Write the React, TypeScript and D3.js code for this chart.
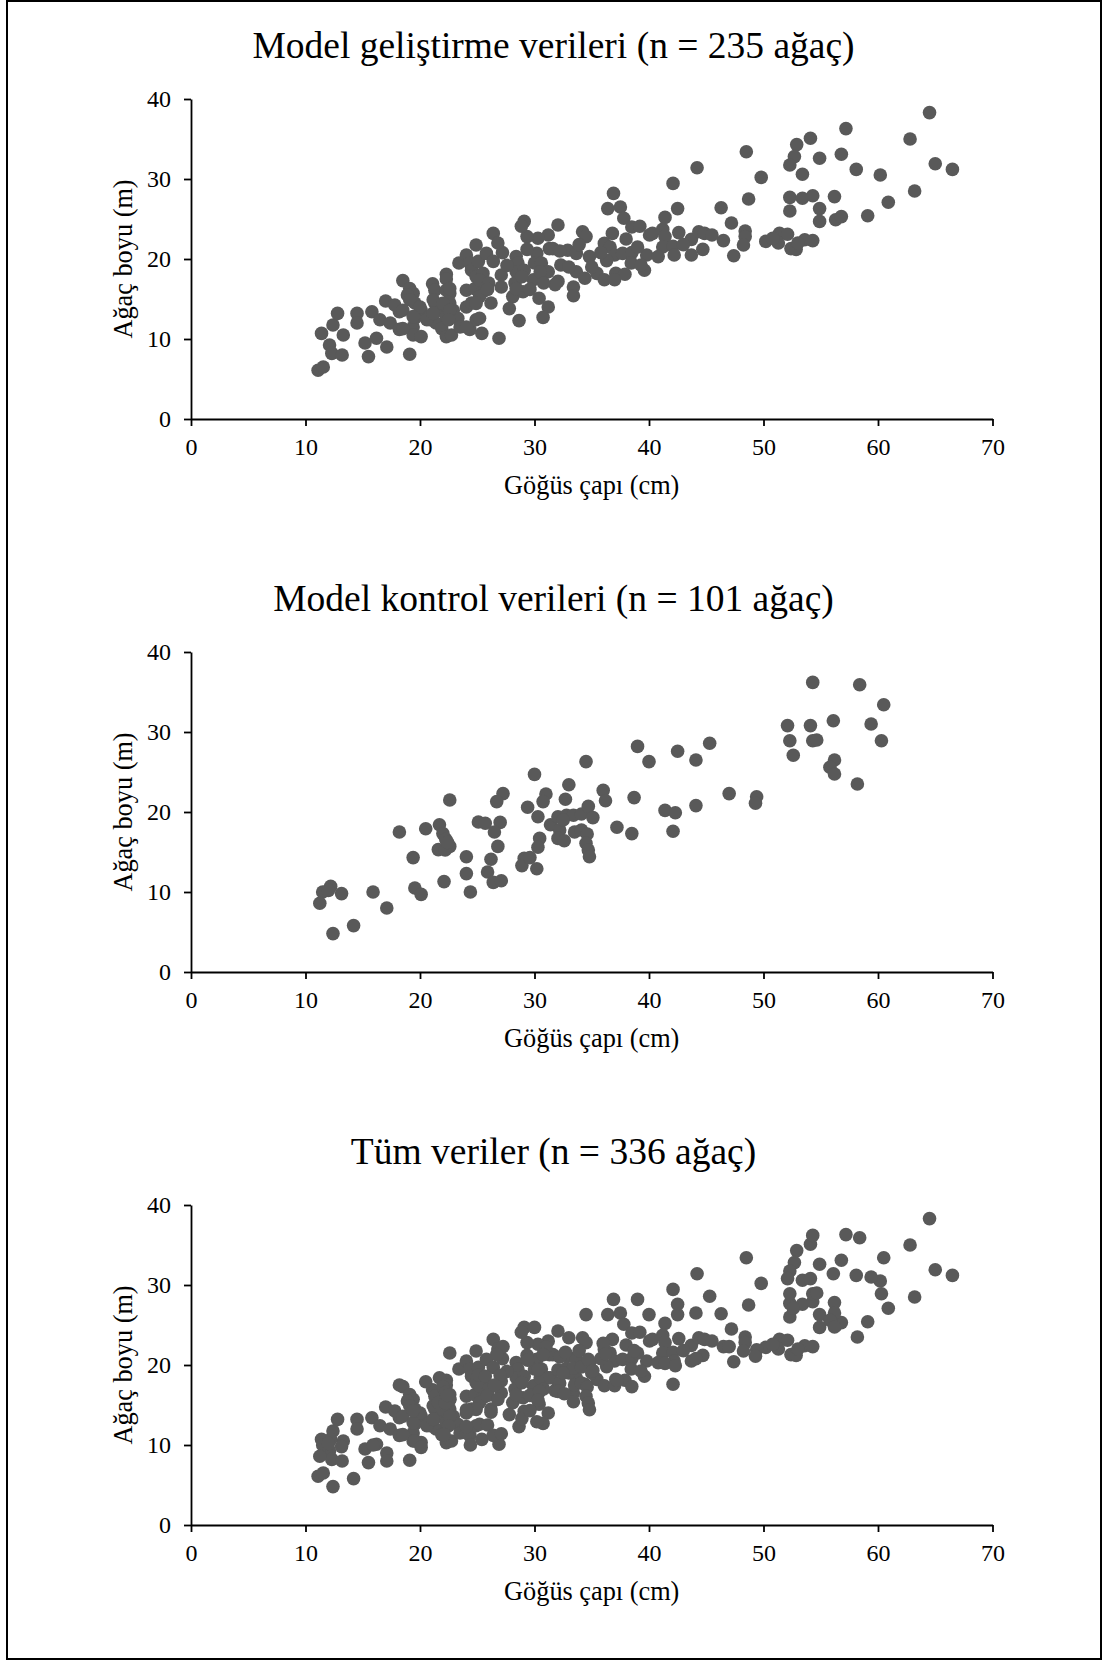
import React, { useEffect, useRef } from "react";
import * as d3 from "d3";

// Model development data (DBH cm, height m)
const devData: [number, number][] = [
  [11.1, 6.1], [11.55, 6.5], [11.4, 10.7], [12.1, 9.25], [12.3, 8.2], [13.2, 8.0], [13.3, 10.5], [12.4, 11.75],
  [12.8, 13.2], [14.5, 13.2], [14.5, 12.0], [15.5, 7.8], [15.2, 9.5], [16.2, 10.1], [17.1, 9.0], [15.8, 13.4],
  [16.5, 12.4], [17.0, 14.75], [17.4, 12.0], [18.2, 13.4], [18.2, 11.2], [19.1, 8.1], [17.8, 14.25], [18.5, 17.3],
  [19.1, 16.3], [19.4, 15.7], [18.9, 15.5], [19.55, 14.5], [20.1, 13.6], [19.55, 12.6], [19.4, 11.5], [19.4, 10.5],
  [20.1, 10.3], [21.1, 16.9], [21.3, 16.1], [22.3, 18.1], [22.3, 16.1], [22.6, 15.7], [21.3, 14.5], [21.7, 13.6],
  [20.9, 12.4], [21.4, 12.0], [22.3, 12.8], [22.6, 14.5], [22.9, 13.6], [21.9, 11.3], [22.3, 10.3], [22.75, 10.5],
  [23.3, 12.6], [23.5, 11.5], [24.35, 11.2], [24.9, 12.4], [24.05, 14.0], [24.5, 14.5], [24.05, 16.1], [24.8, 16.3],
  [23.4, 19.5], [24.05, 20.5], [24.35, 19.5], [24.9, 21.75], [24.5, 18.6], [24.9, 17.8], [25.1, 19.7],
  [36.9, 28.2], [36.4, 26.3], [37.5, 26.5], [37.8, 25.1], [38.5, 24.0], [39.2, 24.1], [40.05, 23.0], [36.8, 23.2],
  [36.1, 21.95], [36.6, 21.5], [37.0, 20.5], [37.7, 20.7], [38.5, 20.8], [38.45, 19.5], [39.8, 20.5], [39.6, 18.6],
  [35.45, 18.2], [36.1, 17.4], [37.1, 18.2], [37.9, 18.1], [37.0, 17.4], [34.2, 23.4], [34.5, 22.8], [32.9, 21.1],
  [33.65, 20.7], [34.8, 20.3], [33.65, 18.4], [34.4, 17.6], [32.3, 19.25], [32.05, 17.2], [33.4, 16.5], [33.4, 15.4],
  [32.05, 24.25], [31.2, 23.0], [30.3, 22.6], [29.35, 22.8], [29.1, 24.7], [28.85, 24.1], [31.3, 21.3], [31.6, 21.3],
  [30.2, 20.7], [29.35, 21.2], [28.4, 20.3], [28.55, 19.5], [30.0, 19.5], [30.6, 19.5], [31.2, 18.4], [28.4, 18.4],
  [29.1, 18.6], [29.9, 17.4], [30.5, 18.4], [28.3, 17.0], [28.4, 15.9], [28.1, 15.3], [29.0, 15.9], [30.4, 15.1],
  [31.2, 14.0], [30.75, 12.7], [28.65, 12.3], [27.1, 18.0], [27.1, 16.5], [26.4, 23.2], [27.2, 20.8], [25.8, 20.7],
  [26.4, 19.7], [25.5, 18.2], [25.2, 17.4], [25.5, 15.9], [26.2, 14.5], [25.2, 12.6], [25.4, 10.7], [26.9, 10.1],
  [54.1, 35.1], [52.9, 34.3], [52.7, 32.8], [52.3, 31.75], [53.4, 30.6], [54.9, 32.6], [48.5, 33.4], [49.8, 30.2],
  [44.2, 31.4], [42.1, 29.45], [48.7, 27.5], [52.3, 27.7], [52.3, 26.0], [53.4, 27.6], [54.3, 27.9], [54.9, 26.3],
  [54.9, 24.7], [46.3, 26.4], [47.2, 24.5], [42.5, 26.3], [41.4, 25.2], [40.3, 23.2], [41.2, 23.7], [41.4, 22.8],
  [42.6, 23.3], [43.7, 22.45], [44.35, 23.4], [44.85, 23.2], [41.2, 21.5], [42.1, 21.6], [42.2, 20.5], [43.7, 20.5],
  [44.7, 21.2], [39.3, 19.25], [46.5, 22.3], [47.4, 20.4], [48.4, 23.5], [48.4, 22.8], [48.25, 21.75], [50.2, 22.2],
  [51.4, 23.2], [52.1, 23.1], [51.3, 22.0], [52.4, 21.3], [52.85, 21.2], [53.6, 22.4], [54.3, 22.3],
  [64.5, 38.3], [57.2, 36.3], [62.8, 35.0], [56.8, 33.1], [58.1, 31.2], [60.2, 30.5], [65.0, 31.9], [66.5, 31.2],
  [63.2, 28.5], [60.9, 27.1], [56.2, 27.8], [56.3, 24.9], [56.8, 25.3], [59.1, 25.4],
  [32.2, 21.0], [28.9, 17.8], [28.4, 16.3], [22.3, 17.5], [22.6, 16.3], [25.2, 15.3], [24.9, 14.45], [19.1, 14.9],
  [20.0, 14.0], [18.5, 13.6], [21.15, 14.9], [22.0, 14.45], [22.6, 13.6], [19.4, 12.8], [20.6, 12.4], [21.15, 13.2],
  [22.5, 12.4], [24.05, 11.5], [18.5, 11.3],
  [35.0, 19.0], [36.3, 19.8], [38.0, 22.5], [39.0, 21.5], [35.8, 20.8], [33.0, 19.0], [31.8, 16.8], [30.8, 17.0],
  [29.6, 16.2], [33.9, 21.8], [26.0, 17.0], [27.6, 19.2], [26.8, 22.0], [25.9, 16.2], [27.8, 13.8], [43.0, 21.8],
  [45.5, 23.0], [50.8, 22.6], [53.0, 22.0], [40.8, 20.3],
];

// Model control data (DBH cm, height m)
const ctrlData: [number, number][] = [
  [30.0, 24.7], [22.6, 21.5], [27.25, 22.3], [26.7, 21.3], [29.4, 20.6], [30.3, 19.4], [18.2, 17.5], [20.5, 17.9],
  [21.7, 18.4], [22.0, 17.3], [22.25, 16.6], [22.6, 15.7], [21.6, 15.3], [22.2, 15.25], [25.1, 18.75], [25.7, 18.6],
  [27.0, 18.7], [26.5, 17.5], [26.8, 15.7], [19.4, 14.3], [24.05, 14.4], [26.2, 14.1], [24.05, 12.3], [25.9, 12.5],
  [26.4, 11.2], [27.1, 11.4], [22.1, 11.3], [24.4, 10.0], [19.55, 10.5], [20.1, 9.7], [15.9, 10.0], [17.1, 8.0],
  [12.2, 10.7], [11.5, 10.0], [13.15, 9.8], [11.25, 8.6], [14.2, 5.8], [12.4, 4.8], [29.1, 14.2], [28.9, 13.3],
  [31.0, 22.25], [30.75, 21.3], [33.0, 23.4], [34.5, 26.3], [32.7, 21.6], [31.4, 18.4], [32.05, 19.4], [32.8, 19.6],
  [33.4, 19.6], [34.1, 19.75], [34.7, 20.7], [35.1, 19.3], [32.2, 17.75], [32.05, 16.7], [32.6, 16.4], [33.5, 17.5],
  [34.1, 17.75], [34.6, 17.25], [34.5, 16.1], [34.7, 15.25], [34.8, 14.4], [30.45, 16.7], [30.3, 15.6], [30.2, 12.9],
  [36.0, 22.7], [36.2, 21.4], [37.2, 18.1], [38.5, 17.3], [38.7, 21.8], [39.0, 28.2], [40.0, 26.3], [42.5, 27.6],
  [44.1, 26.5], [45.3, 28.6], [41.4, 20.2], [42.3, 19.9], [42.1, 17.6], [44.1, 20.8], [47.0, 22.3], [49.4, 21.9],
  [49.3, 21.1],
  [54.3, 36.2], [58.4, 35.9], [60.5, 33.4], [52.1, 30.8], [54.1, 30.8], [56.1, 31.4], [59.4, 31.0], [52.3, 28.9],
  [54.3, 28.9], [54.65, 29.0], [60.3, 28.9], [52.6, 27.1], [56.2, 26.5], [55.8, 25.6], [56.2, 24.75], [58.2, 23.5],
  [29.6, 14.3], [22.4, 16.2], [32.5, 19.0], [12.0, 10.2],
];

const allData: [number, number][] = [...devData, ...ctrlData];

const panelTitles = [
  "Model geliştirme verileri (n = 235 ağaç)",
  "Model kontrol verileri (n = 101 ağaç)",
  "Tüm veriler (n = 336 ağaç)",
];
const xTicks = [0, 10, 20, 30, 40, 50, 60, 70];
const yTicks = [0, 10, 20, 30, 40];
const xLabel = "Göğüs çapı (cm)";
const yLabel = "Ağaç boyu (m)";

const W = 1107;
const H = 1661;
const LEFT = 191;
const RIGHT = 992.5;
const PH = 320;
const PANEL_TOPS = [99, 652, 1205];
const FONT = "'Liberation Serif', 'Times New Roman', Times, serif";

function Panel({ title, data, top }: { title: string; data: [number, number][]; top: number }) {
  const xRef = useRef<SVGGElement>(null);
  const yRef = useRef<SVGGElement>(null);
  const x = d3.scaleLinear().domain([0, 70]).range([LEFT, RIGHT]);
  const y = d3.scaleLinear().domain([0, 40]).range([top + PH, top]);

  useEffect(() => {
    const gx = d3.select(xRef.current as SVGGElement);
    gx.call(
      d3.axisBottom(x).tickValues(xTicks).tickSize(7).tickSizeOuter(0).tickPadding(12).tickFormat(d3.format("d")) as any
    );
    const gy = d3.select(yRef.current as SVGGElement);
    gy.call(
      d3.axisLeft(y).tickValues(yTicks).tickSize(7).tickSizeOuter(0).tickPadding(13).tickFormat(d3.format("d")) as any
    );
    [gx, gy].forEach((g) => {
      g.attr("font-size", null).attr("font-family", null);
      g.select(".domain").attr("stroke", "#000").attr("stroke-width", 1.8);
      g.selectAll(".tick line").attr("stroke", "#000").attr("stroke-width", 1.8);
      g.selectAll(".tick text").attr("font-size", 24).attr("font-family", FONT).attr("fill", "#000");
    });
  }, [top]);

  return (
    <g>
      <text x={553.5} y={top - 41} textAnchor="middle" fontSize={37.5} fontFamily={FONT} fill="#000">
        {title}
      </text>
      {data.map((d, i) => (
        <circle key={i} cx={x(d[0])} cy={y(d[1])} r={6.8} fill="#595959" />
      ))}
      <g ref={xRef} transform={`translate(0,${top + PH})`} />
      <g ref={yRef} transform={`translate(${LEFT},0)`} />
      <text x={(LEFT + RIGHT) / 2} y={top + PH + 75} textAnchor="middle" fontSize={26.3} fontFamily={FONT} fill="#000">
        {xLabel}
      </text>
      <text
        transform={`translate(132,${top + PH / 2}) rotate(-90)`}
        textAnchor="middle"
        fontSize={26.3}
        fontFamily={FONT}
        fill="#000"
      >
        {yLabel}
      </text>
    </g>
  );
}

export default function App() {
  const datasets = [devData, ctrlData, allData];
  return (
    <svg
      width={W}
      height={H}
      viewBox={`0 0 ${W} ${H}`}
      style={{ position: "absolute", left: 0, top: 0, display: "block", background: "#fff" }}
    >
      <rect x={0} y={0} width={W} height={H} fill="#fff" />
      <rect x={7} y={1} width={1094} height={1658} fill="none" stroke="#000" strokeWidth={2} />
      {PANEL_TOPS.map((t, i) => (
        <Panel key={i} title={panelTitles[i]} data={datasets[i]} top={t} />
      ))}
    </svg>
  );
}
